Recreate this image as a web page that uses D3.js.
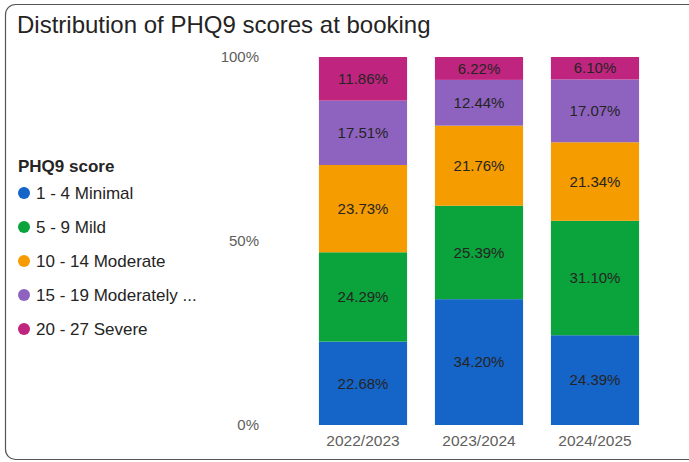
<!DOCTYPE html>
<html>
<head>
<meta charset="utf-8">
<script src="https://cdn.jsdelivr.net/npm/d3@7"></script>
<style>
  body { margin: 0; background: #fff; }
  text { font-family: "Liberation Sans", Arial, sans-serif; }
</style>
</head>
<body>
<div id="chart"></div>
<script>
// Set dimensions
const width = 689;
const height = 462;

// Data
const years = ["2022/2023", "2023/2024", "2024/2025"];
const categories = ["1 - 4 Minimal", "5 - 9 Mild", "10 - 14 Moderate", "15 - 19 Moderately Severe", "20 - 27 Severe"];
const legendLabels = ["1 - 4 Minimal", "5 - 9 Mild", "10 - 14 Moderate", "15 - 19 Moderately ...", "20 - 27 Severe"];
const minimal = [22.68, 34.20, 24.39];
const mild = [24.29, 25.39, 31.10];
const moderate = [23.73, 21.76, 21.34];
const modSevere = [17.51, 12.44, 17.07];
const severe = [11.86, 6.22, 6.10];
const yTicks = [0, 0.5, 1];
const colors = ["#1565c8", "#0ba33c", "#f59c00", "#8e63c0", "#bf247f"];

const series = [minimal, mild, moderate, modSevere, severe];
const rows = years.map((y, i) => {
    const r = { year: y };
    categories.forEach((c, j) => r[c] = series[j][i]);
    return r;
});

const svg = d3.select("#chart")
    .append("svg")
    .attr("width", width)
    .attr("height", height);

// Card frame
svg.append("rect")
    .attr("x", 5.5)
    .attr("y", 4.5)
    .attr("width", 700)
    .attr("height", 455)
    .attr("rx", 10)
    .attr("fill", "#fff")
    .attr("stroke", "#555")
    .attr("stroke-width", 1.2);

// Title
svg.append("text")
    .attr("x", 17)
    .attr("y", 33)
    .attr("font-size", 24)
    .attr("fill", "#252423")
    .text("Distribution of PHQ9 scores at booking");

// Scales
const x = d3.scaleBand()
    .domain(years)
    .range([305, 653])
    .paddingInner(0.24)
    .paddingOuter(0.12);

const y = d3.scaleLinear()
    .domain([0, 1])
    .range([425, 57]);

const color = d3.scaleOrdinal().domain(categories).range(colors);

const stack = d3.stack()
    .keys(categories)
    .offset(d3.stackOffsetExpand);
const stacked = stack(rows);

// Bars
const layers = svg.append("g")
    .selectAll("g")
    .data(stacked)
    .join("g")
    .attr("fill", d => color(d.key));

layers.selectAll("rect")
    .data(d => d)
    .join("rect")
    .attr("x", d => x(d.data.year))
    .attr("y", d => y(d[1]))
    .attr("width", x.bandwidth())
    .attr("height", d => y(d[0]) - y(d[1]));

// Data labels
const labels = svg.append("g");
stacked.forEach(layer => {
    layer.forEach(d => {
        labels.append("text")
            .attr("x", x(d.data.year) + x.bandwidth() / 2)
            .attr("y", (y(d[0]) + y(d[1])) / 2)
            .attr("dy", "0.35em")
            .attr("text-anchor", "middle")
            .attr("font-size", 15)
            .attr("fill", "#252423")
            .text(d3.format(".2f")(d.data[layer.key]) + "%");
    });
});

// Y axis
const yAxis = svg.append("g")
    .attr("transform", "translate(259,0)")
    .call(d3.axisLeft(y).tickValues(yTicks).tickFormat(d3.format(".0%")).tickSize(0).tickPadding(0));
yAxis.select(".domain").remove();
yAxis.selectAll("text")
    .attr("font-size", 15)
    .attr("fill", "#605e5c")
    .attr("font-family", "'Liberation Sans', Arial, sans-serif");

// X axis
const xAxis = svg.append("g")
    .attr("transform", "translate(0,432)")
    .call(d3.axisBottom(x).tickSize(0).tickPadding(3));
xAxis.select(".domain").remove();
xAxis.selectAll("text")
    .attr("font-size", 15.5)
    .attr("fill", "#605e5c")
    .attr("font-family", "'Liberation Sans', Arial, sans-serif");

// Legend
const legend = svg.append("g")
    .attr("transform", "translate(18,166)");

legend.append("text")
    .attr("x", 0)
    .attr("y", 6)
    .attr("font-size", 17)
    .attr("font-weight", "bold")
    .attr("fill", "#252423")
    .text("PHQ9 score");

const items = legend.selectAll("g.item")
    .data(categories)
    .join("g")
    .attr("class", "item")
    .attr("transform", (d, i) => `translate(0,${27 + i * 34})`);

items.append("circle")
    .attr("cx", 6)
    .attr("cy", 0)
    .attr("r", 6)
    .attr("fill", d => color(d));

items.append("text")
    .attr("x", 18)
    .attr("dy", "0.35em")
    .attr("font-size", 17)
    .attr("fill", "#252423")
    .text((d, i) => legendLabels[i]);
</script>
</body>
</html>
